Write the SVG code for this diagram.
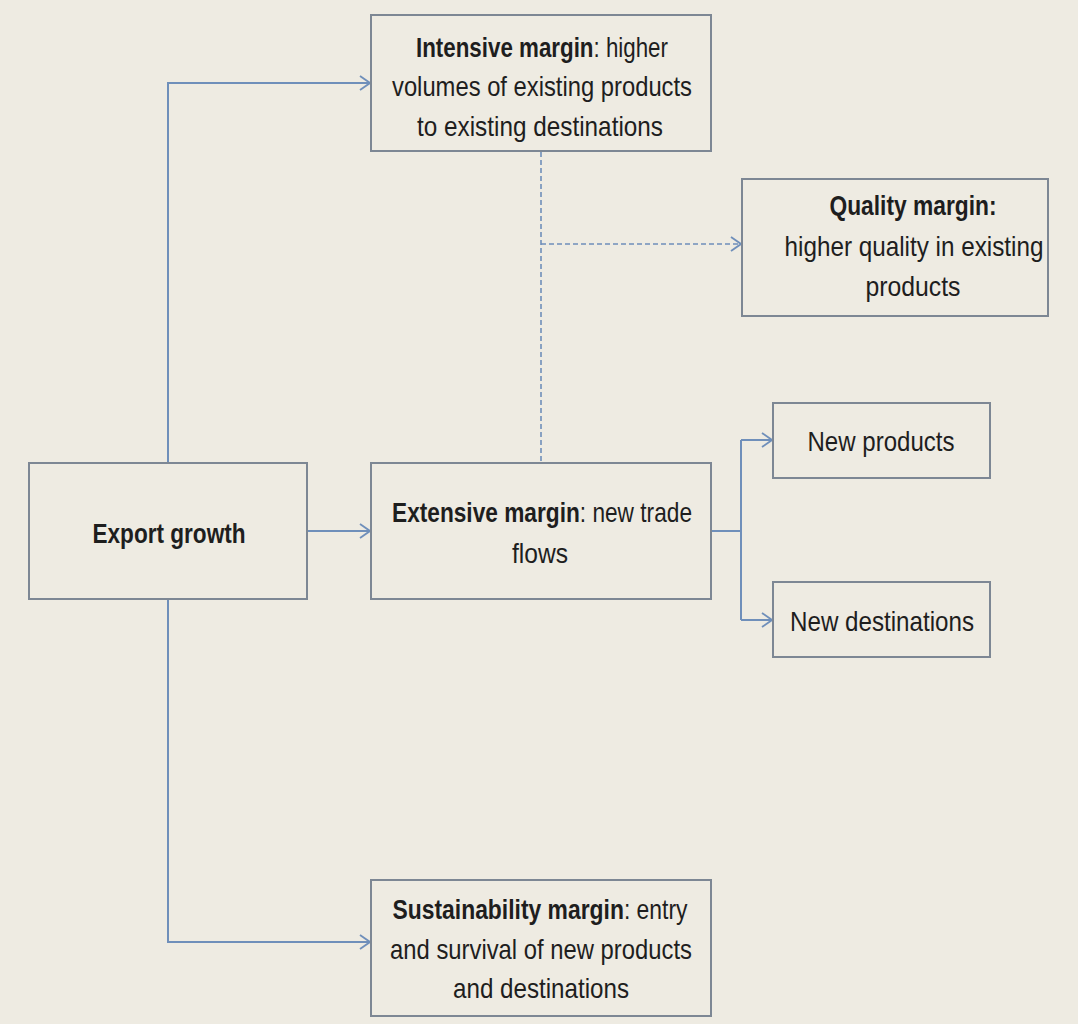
<svg xmlns="http://www.w3.org/2000/svg" width="1078" height="1024" viewBox="0 0 1078 1024">
<defs>
<style>
.box{fill:#eeebe2;stroke:#7d8794;stroke-width:2}
.t{font-family:"Liberation Sans",Arial,sans-serif;font-size:28px;fill:#1e1e1e;text-anchor:middle}
.b{font-weight:bold}
.ln{fill:none;stroke:#6f8fba;stroke-width:2}
.dash{fill:none;stroke:#6f8fba;stroke-width:1.6;stroke-dasharray:5 3}
</style>
<marker id="arr" viewBox="0 0 12 16" refX="11" refY="8" markerWidth="12" markerHeight="16" markerUnits="userSpaceOnUse" orient="auto">
<path d="M1,1 L11,8 L1,15" fill="none" stroke="#6f8fba" stroke-width="1.8"/>
</marker>
</defs>
<rect width="1078" height="1024" fill="#eeebe2"/>
<g id="connectors">
<path class="ln" d="M168,463 V83 H370" marker-end="url(#arr)"/>
<path class="ln" d="M168,599 V942 H370" marker-end="url(#arr)"/>
<path class="ln" d="M307,531 H370" marker-end="url(#arr)"/>
<path class="ln" d="M711,531 H741"/>
<path class="ln" d="M741,440 V620"/>
<path class="ln" d="M741,440 H772" marker-end="url(#arr)"/>
<path class="ln" d="M741,620 H772" marker-end="url(#arr)"/>
<path class="dash" d="M541,152 V463"/>
<path class="dash" d="M541,244 H741" marker-end="url(#arr)"/>
</g>
<g id="intensive">
<rect class="box" x="371" y="15" width="340" height="136"/>
<text class="t" x="542" y="57" textLength="252" lengthAdjust="spacingAndGlyphs"><tspan class="b">Intensive margin</tspan>: higher</text>
<text class="t" x="542" y="96" textLength="300" lengthAdjust="spacingAndGlyphs">volumes of existing products</text>
<text class="t" x="540" y="136" textLength="246" lengthAdjust="spacingAndGlyphs">to existing destinations</text>
</g>
<g id="quality">
<rect class="box" x="742" y="179" width="306" height="137"/>
<text class="t b" x="913" y="215" textLength="167" lengthAdjust="spacingAndGlyphs">Quality margin:</text>
<text class="t" x="914" y="256" textLength="259" lengthAdjust="spacingAndGlyphs">higher quality in existing</text>
<text class="t" x="913" y="296" textLength="95" lengthAdjust="spacingAndGlyphs">products</text>
</g>
<g id="export">
<rect class="box" x="29" y="463" width="278" height="136"/>
<text class="t b" x="169" y="543" textLength="153" lengthAdjust="spacingAndGlyphs">Export growth</text>
</g>
<g id="extensive">
<rect class="box" x="371" y="463" width="340" height="136"/>
<text class="t" x="542" y="522" textLength="300" lengthAdjust="spacingAndGlyphs"><tspan class="b">Extensive margin</tspan>: new trade</text>
<text class="t" x="540" y="563" textLength="56" lengthAdjust="spacingAndGlyphs">flows</text>
</g>
<g id="newproducts">
<rect class="box" x="773" y="403" width="217" height="75"/>
<text class="t" x="881" y="451" textLength="147" lengthAdjust="spacingAndGlyphs">New products</text>
</g>
<g id="newdest">
<rect class="box" x="773" y="582" width="217" height="75"/>
<text class="t" x="882" y="631" textLength="184" lengthAdjust="spacingAndGlyphs">New destinations</text>
</g>
<g id="sustain">
<rect class="box" x="371" y="880" width="340" height="136"/>
<text class="t" x="540" y="919" textLength="295" lengthAdjust="spacingAndGlyphs"><tspan class="b">Sustainability margin</tspan>: entry</text>
<text class="t" x="541" y="959" textLength="302" lengthAdjust="spacingAndGlyphs">and survival of new products</text>
<text class="t" x="541" y="998" textLength="176" lengthAdjust="spacingAndGlyphs">and destinations</text>
</g>
</svg>
